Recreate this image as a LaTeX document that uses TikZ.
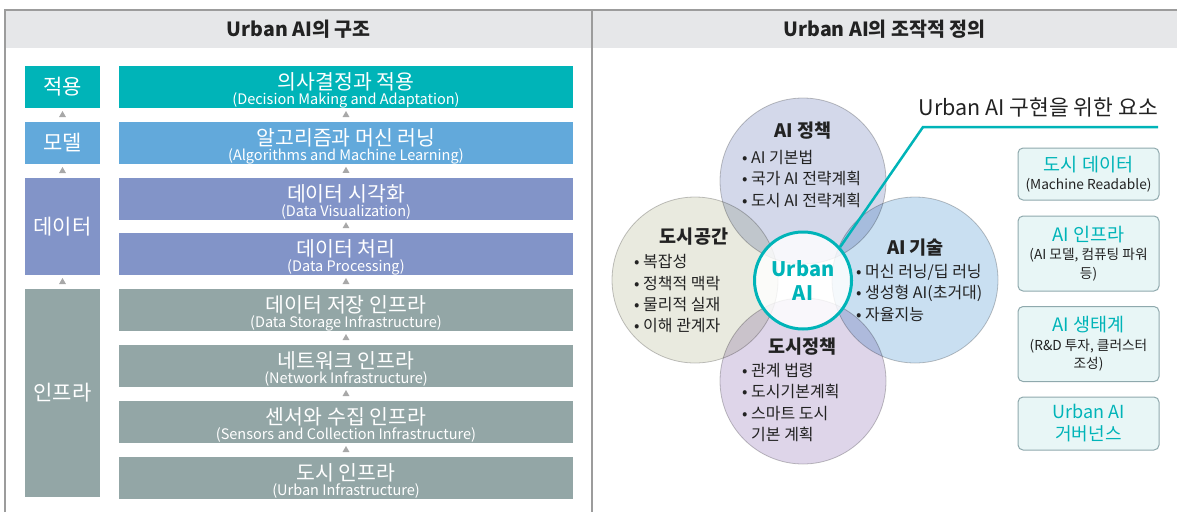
\documentclass[tikz,border=0pt]{standalone}
\usepackage{fontspec}
\setmainfont{Noto Sans CJK KR}
\usetikzlibrary{shapes.geometric,calc}
\definecolor{cTeal}{HTML}{00B4B8}
\definecolor{cBlue}{HTML}{62A9DB}
\definecolor{cData}{HTML}{8294C8}
\definecolor{cInfra}{HTML}{93A6A6}
\definecolor{cTri}{HTML}{A8A8A8}
\definecolor{cHead}{HTML}{E6E7E9}
\definecolor{cFrame}{HTML}{9C9C9C}
\definecolor{cPol}{HTML}{D3D8EA}
\definecolor{cSpace}{HTML}{E9EADF}
\definecolor{cTech}{HTML}{C9DFF1}
\definecolor{cUPol}{HTML}{DED5E9}
\definecolor{cCircLine}{HTML}{C4C4C4}
\definecolor{cDark}{HTML}{222222}
\definecolor{cBoxFill}{HTML}{E8F6F6}
\definecolor{cBoxLine}{HTML}{8FA9AD}
\newcommand\myKt{\fontsize{20.5}{20.5}\selectfont\rule{0pt}{23.5pt}}
\newcommand\myEt{\color{cTeal}\fontsize{18.5}{21}\selectfont}
\begin{document}
\begin{tikzpicture}[x=1pt,y=-1pt,
  rowbox/.style={minimum width=454pt, minimum height=42pt, inner sep=0pt, align=center, text=white,
    font=\fontsize{14.5}{15}\selectfont},
  sidebox/.style={minimum width=75pt, inner sep=0pt, align=center, text=white,
    font=\fontsize{21}{24}\selectfont},
  uptri/.style={regular polygon, regular polygon sides=3, fill=cTri, minimum size=8pt, inner sep=0pt},
  circ/.style={circle, minimum size=166pt, inner sep=0pt, draw=cCircLine, line width=0.8pt},
  ctitle/.style={font=\bfseries\fontsize{18.5}{20}\selectfont, text=cDark, inner sep=0pt},
  clist/.style={font=\fontsize{16}{21.3}\selectfont, text=cDark, inner sep=0pt, align=left, anchor=north west},
  elem/.style={draw=cBoxLine, fill=cBoxFill, line width=1pt, rounded corners=5pt, minimum width=141pt,
    inner sep=0pt, align=center, font=\fontsize{13.7}{18.5}\selectfont, text=cDark}
]
\useasboundingbox (0,0) rectangle (1177,512);
% frame and headers
\fill[cHead] (5,10) rectangle (1177,48);
\draw[cFrame, line width=1.3pt] (5,512) -- (5,10) -- (1177,10);
\draw[cFrame, line width=1.3pt] (592,10) -- (592,512);
\node[font=\bfseries\fontsize{19.5}{21}\selectfont, text=cDark] (h1) at (298.5,29) {Urban AI의 구조};
\node[font=\bfseries\fontsize{19.5}{21}\selectfont, text=cDark] (h2) at (884.5,29) {Urban AI의 조작적 정의};

% left column
\node[sidebox, fill=cTeal, minimum height=42pt] (s1) at (62.5,87) {적용};
\node[sidebox, fill=cBlue, minimum height=42pt] (s2) at (62.5,143) {모델};
\node[sidebox, fill=cData, minimum height=97pt] (s3) at (62.5,226.5) {데이터};
\node[sidebox, fill=cInfra, minimum height=208pt] (s4) at (62.5,393) {인프라};

% main rows
\node[rowbox, fill=cTeal] (r1) at (346,87) {{\myKt 의사결정과 적용}\\(Decision Making and Adaptation)};
\node[rowbox, fill=cBlue] (r2) at (346,143) {{\myKt 알고리즘과 머신 러닝}\\(Algorithms and Machine Learning)};
\node[rowbox, fill=cData] (r3) at (346,198.5) {{\myKt 데이터 시각화}\\(Data Visualization)};
\node[rowbox, fill=cData] (r4) at (346,254) {{\myKt 데이터 처리}\\(Data Processing)};
\node[rowbox, fill=cInfra] (r5) at (346,310) {{\myKt 데이터 저장 인프라}\\(Data Storage Infrastructure)};
\node[rowbox, fill=cInfra] (r6) at (346,366) {{\myKt 네트워크 인프라}\\(Network Infrastructure)};
\node[rowbox, fill=cInfra] (r7) at (346,422) {{\myKt 센서와 수집 인프라}\\(Sensors and Collection Infrastructure)};
\node[rowbox, fill=cInfra] (r8) at (346,478) {{\myKt 도시 인프라}\\(Urban Infrastructure)};

% triangles
\foreach \a/\b in {s2/s1,s3/s2,s4/s3}{
  \node[uptri] (t\a) at ($(\a.north)!0.5!(\b.south)$) {};
}
\foreach \a/\b in {r2/r1,r3/r2,r4/r3,r5/r4,r6/r5,r7/r6,r8/r7}{
  \node[uptri] (t\a) at ($(\a.north)!0.5!(\b.south)$) {};
}

% circles
\begin{scope}[blend mode=multiply]
\node[circ, fill=cPol] (cp) at (803,181) {};
\node[circ, fill=cSpace] (cs) at (695,280) {};
\node[circ, fill=cTech] (ct) at (915,280) {};
\node[circ, fill=cUPol] (cu) at (803,381) {};
\end{scope}

\node[ctitle] (cpT) at (803,131) {AI 정책};
\node[clist] (cpL) at (742,150) {• AI 기본법\\• 국가 AI 전략계획\\• 도시 AI 전략계획};
\node[ctitle] (csT) at (694,237) {도시공간};
\node[clist] (csL) at (634,254.5) {• 복잡성\\• 정책적 맥락\\• 물리적 실재\\• 이해 관계자};
\node[ctitle] (ctT) at (915.5,248) {AI 기술};
\node[clist] (ctL) at (856,264) {• 머신 러닝/딥 러닝\\• 생성형 AI(초거대)\\• 자율지능};
\node[ctitle] (cuT) at (802.5,347) {도시정책};
\node[clist] (cuL) at (742,363) {• 관계 법령\\• 도시기본계획\\• 스마트 도시\\\phantom{• }기본 계획};

% center
\node[circle, minimum size=97pt, inner sep=0pt, draw=cTeal, line width=3pt, fill=white, fill opacity=0.82,
  text opacity=1, text=cTeal, align=center, font=\bfseries\fontsize{20}{24}\selectfont] (ua) at (803,280.5) {Urban\\AI};

% teal connector
\coordinate (bend) at (923,127);
\coordinate (lend) at (1158,127);
\draw[cTeal, line width=2.5pt] (ua.42) -- (bend) -- (lend);
\node[anchor=south east, inner sep=0pt, text=cDark, font=\fontsize{21.5}{23}\selectfont] (elt) at (1158,117) {Urban AI 구현을 위한 요소};

% element boxes
\node[elem, minimum height=52pt] (e1) at (1088.5,174) {{\myEt 도시 데이터}\\(Machine Readable)};
\node[elem, minimum height=75pt] (e2) at (1088.5,253.5) {{\myEt AI 인프라}\\(AI 모델, 컴퓨팅 파워\\등)};
\node[elem, minimum height=75pt] (e3) at (1088.5,344) {{\myEt AI 생태계}\\(R\&D 투자, 클러스터\\조성)};
\node[elem, minimum height=53pt, text=cTeal, font=\fontsize{18}{22}\selectfont] (e4) at (1088.5,423.5) {Urban AI\\거버넌스};
\end{tikzpicture}
\end{document}
